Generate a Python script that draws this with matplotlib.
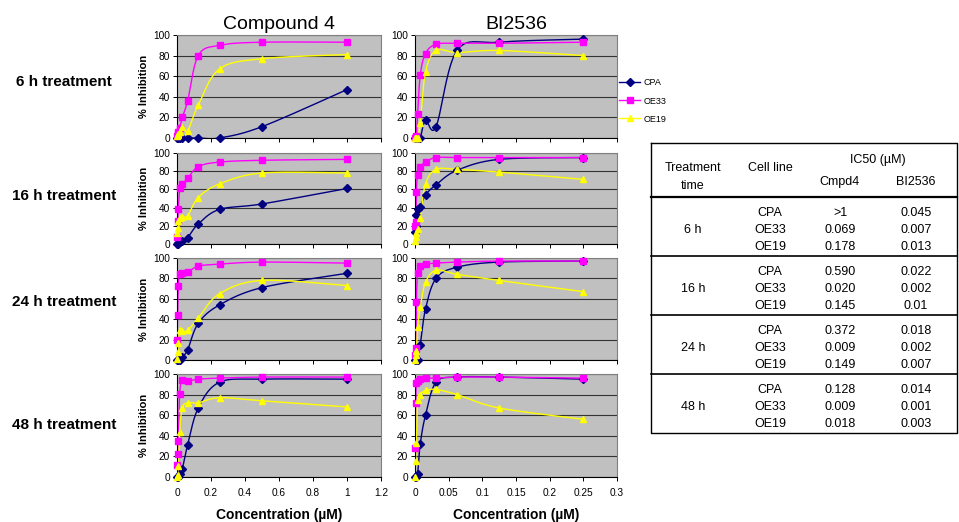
import numpy as np
import matplotlib
matplotlib.use('Agg')
import matplotlib.pyplot as plt
from matplotlib.lines import Line2D

plt.rcParams['font.family'] = ['Liberation Sans', 'DejaVu Sans']

# concentrations (uM)
conc_c4 = [0, 0.0039, 0.0078, 0.0156, 0.03125, 0.0625, 0.125, 0.25, 0.5, 1.0]
conc_bi = [0, 0.00098, 0.002, 0.0039, 0.0078, 0.0156, 0.03125, 0.0625, 0.125, 0.25]

treatments = ['6 h', '16 h', '24 h', '48 h']
cell_lines = ['CPA', 'OE33', 'OE19']

# % inhibition, one list per treatment time (6, 16, 24, 48 h)
c4_cpa = [[0, 0, 0, 0, 0, 0, 0, 0, 11, 47],
          [0, 0.5, 1, 2, 3, 7, 22, 38, 44, 61],
          [0, 0, 0, 0, 3, 10, 36, 54, 71, 85],
          [0, 0, 0, 3, 8, 31, 67, 92, 95, 95]]
c4_oe33 = [[2, 4, 6, 10, 20, 36, 80, 90, 93, 93],
           [8, 25, 39, 61, 66, 72, 85, 90, 92, 93],
           [20, 44, 73, 84, 85, 86, 92, 94, 96, 95],
           [12, 22, 35, 81, 94, 93, 95, 96, 97, 97]]
c4_oe19 = [[2, 3, 4, 6, 11, 7, 32, 67, 77, 81],
           [12, 18, 25, 29, 30, 31, 51, 66, 78, 78],
           [1, 8, 17, 29, 28, 29, 41, 65, 78, 73],
           [0, 2, 11, 44, 67, 72, 72, 77, 74, 68]]

bi_cpa = [[0, 0, 0, 0, 0, 17, 11, 85, 93, 96],
          [13, 20, 32, 38, 41, 54, 65, 81, 93, 95],
          [0, 0, 0, 0, 15, 50, 80, 91, 96, 97],
          [0, 0, 0, 3, 32, 60, 92, 97, 97, 95]]
bi_oe33 = [[0, 1, 2, 23, 61, 82, 91, 92, 92, 93],
           [20, 24, 57, 76, 85, 90, 95, 95, 95, 95],
           [5, 12, 57, 85, 92, 94, 95, 96, 97, 97],
           [28, 72, 91, 93, 95, 96, 96, 97, 97, 96]]
bi_oe19 = [[0, 0, 0, 0, 15, 64, 85, 83, 85, 80],
           [3, 8, 12, 16, 29, 66, 82, 82, 79, 71],
           [0, 5, 9, 32, 52, 76, 88, 84, 78, 67],
           [0, 16, 33, 75, 80, 84, 85, 80, 67, 56]]

# IC50 table
table_cells = ['CPA', 'OE33', 'OE19']
ic50_cmpd4 = ['>1', '0.069', '0.178', '0.590', '0.020', '0.145',
              '0.372', '0.009', '0.149', '0.128', '0.009', '0.018']
ic50_bi2536 = ['0.045', '0.007', '0.013', '0.022', '0.002', '0.01',
               '0.018', '0.002', '0.007', '0.014', '0.001', '0.003']

colors = {'CPA': '#000080', 'OE33': '#ff00ff', 'OE19': '#ffff00'}
markers = {'CPA': 'D', 'OE33': 's', 'OE19': '^'}
msizes = {'CPA': 4, 'OE33': 4.5, 'OE19': 5}

W, H = 959, 522
fig = plt.figure(figsize=(W / 100, H / 100), dpi=100)


def px_axes(left, top, right, bottom):
    return fig.add_axes([left / W, 1 - bottom / H, (right - left) / W, (bottom - top) / H])


def smooth(x, y, sx, sy, n=24):
    # excel-like smoothed line (bezier through the points)
    p = np.column_stack([np.asarray(x, float) * sx, np.asarray(y, float) * sy])
    out = [p[0]]
    t = np.linspace(0, 1, n)[1:, None]
    for i in range(len(p) - 1):
        p0 = p[i - 1] if i > 0 else p[i]
        p3 = p[i + 2] if i + 2 < len(p) else p[i + 1]
        c1 = p[i] + (p[i + 1] - p0) / 6
        c2 = p[i + 1] - (p3 - p[i]) / 6
        seg = (1 - t) ** 3 * p[i] + 3 * (1 - t) ** 2 * t * c1 + 3 * (1 - t) * t ** 2 * c2 + t ** 3 * p[i + 1]
        out.extend(seg)
    out = np.array(out)
    return out[:, 0] / sx, out[:, 1] / sy


rows_px = [(35, 138), (153, 244), (258, 360), (374, 477)]
cols = [(177, 381, 1.2, np.arange(0, 1.21, 0.2), conc_c4, [c4_cpa, c4_oe33, c4_oe19]),
        (415, 617, 0.3, np.arange(0, 0.301, 0.05), conc_bi, [bi_cpa, bi_oe33, bi_oe19])]

for ci, (xl, xr, xmax, xt, conc, series) in enumerate(cols):
    for ri, (yt, yb) in enumerate(rows_px):
        ax = px_axes(xl, yt, xr, yb)
        ax.set_facecolor('#c0c0c0')
        ax.set_xlim(0, xmax)
        ax.set_ylim(0, 100)
        ax.set_yticks(range(0, 101, 20))
        ax.set_xticks(xt)
        if ri == 3:
            ax.set_xticklabels([f'{v:g}' for v in xt])
        else:
            ax.set_xticklabels([])
        ax.tick_params(labelsize=7.3, length=3, width=0.7, pad=2)
        ax.tick_params(axis='x', pad=5)
        ax.grid(axis='y', color='#333333', lw=0.8)
        ax.set_axisbelow(True)
        for s in ['top', 'right']:
            ax.spines[s].set_color('#808080')
            ax.spines[s].set_linewidth(0.8)
        for s in ['left', 'bottom']:
            ax.spines[s].set_linewidth(0.8)
        sx = (xr - xl) / xmax
        sy = (yb - yt) / 100
        for name, data in zip(cell_lines, series):
            y = data[ri]
            xs, ys = smooth(conc, y, sx, sy)
            ax.plot(xs, ys, color=colors[name], lw=1)
            ax.plot(conc, y, ls='none', marker=markers[name], ms=msizes[name],
                    color=colors[name], clip_on=False, zorder=4)
        if ci == 0:
            ax.set_ylabel('% Inhibition', fontsize=8, fontweight='bold', labelpad=3)
        if ri == 0:
            ax.set_title(['Compound 4', 'BI2536'][ci], fontsize=14, pad=4)
        if ri == 3:
            ax.set_xlabel('Concentration (\u00b5M)', fontsize=10, fontweight='bold', labelpad=7)

# row labels
for lab, yc in zip(treatments, [82, 196, 302, 425]):
    fig.text(64 / W, 1 - yc / H, lab + ' treatment', ha='center', va='center',
             fontsize=11, fontweight='bold')

# legend
handles = [Line2D([], [], color=colors[n], lw=1, marker=markers[n], ms=msizes[n]) for n in cell_lines]
fig.legend(handles, cell_lines, loc='center left', bbox_to_anchor=(611 / W, 1 - 101 / H),
           frameon=False, fontsize=6.5, handlelength=2.3, labelspacing=1.0, handletextpad=0.4)

# IC50 table drawn on an overlay in pixel coordinates
ov = fig.add_axes([0, 0, 1, 1])
ov.set_xlim(0, W)
ov.set_ylim(H, 0)
ov.axis('off')
ov.patch.set_visible(False)

tl, tr, tt, tb = 651, 957, 143, 433
ov.plot([tl, tr, tr, tl, tl], [tt, tt, tb, tb, tt], color='black', lw=1)
ov.plot([tl, tr], [197, 197], color='black', lw=1.6)
group_h = (tb - 197) / 4
for g in range(1, 4):
    yy = 197 + g * group_h
    ov.plot([tl, tr], [yy, yy], color='black', lw=1.2)

fs = 9
ov.text(693, 168, 'Treatment', ha='center', va='center', fontsize=fs)
ov.text(693, 186, 'time', ha='center', va='center', fontsize=fs)
ov.text(770, 168, 'Cell line', ha='center', va='center', fontsize=fs)
ov.text(878, 160, 'IC50 (\u00b5M)', ha='center', va='center', fontsize=fs)
ov.text(840, 182, 'Cmpd4', ha='center', va='center', fontsize=fs)
ov.text(916, 182, 'BI2536', ha='center', va='center', fontsize=fs)

for g, lab in enumerate(treatments):
    y0 = 197 + g * group_h
    ov.text(693, y0 + 33, lab, ha='center', va='center', fontsize=fs)
    for k, cl in enumerate(table_cells):
        yy = y0 + 16 + 17 * k
        idx = g * 3 + k
        ov.text(770, yy, cl, ha='center', va='center', fontsize=fs)
        ov.text(840, yy, ic50_cmpd4[idx], ha='center', va='center', fontsize=fs)
        ov.text(916, yy, ic50_bi2536[idx], ha='center', va='center', fontsize=fs)

fig.savefig('out.png', dpi=100, facecolor='white')
